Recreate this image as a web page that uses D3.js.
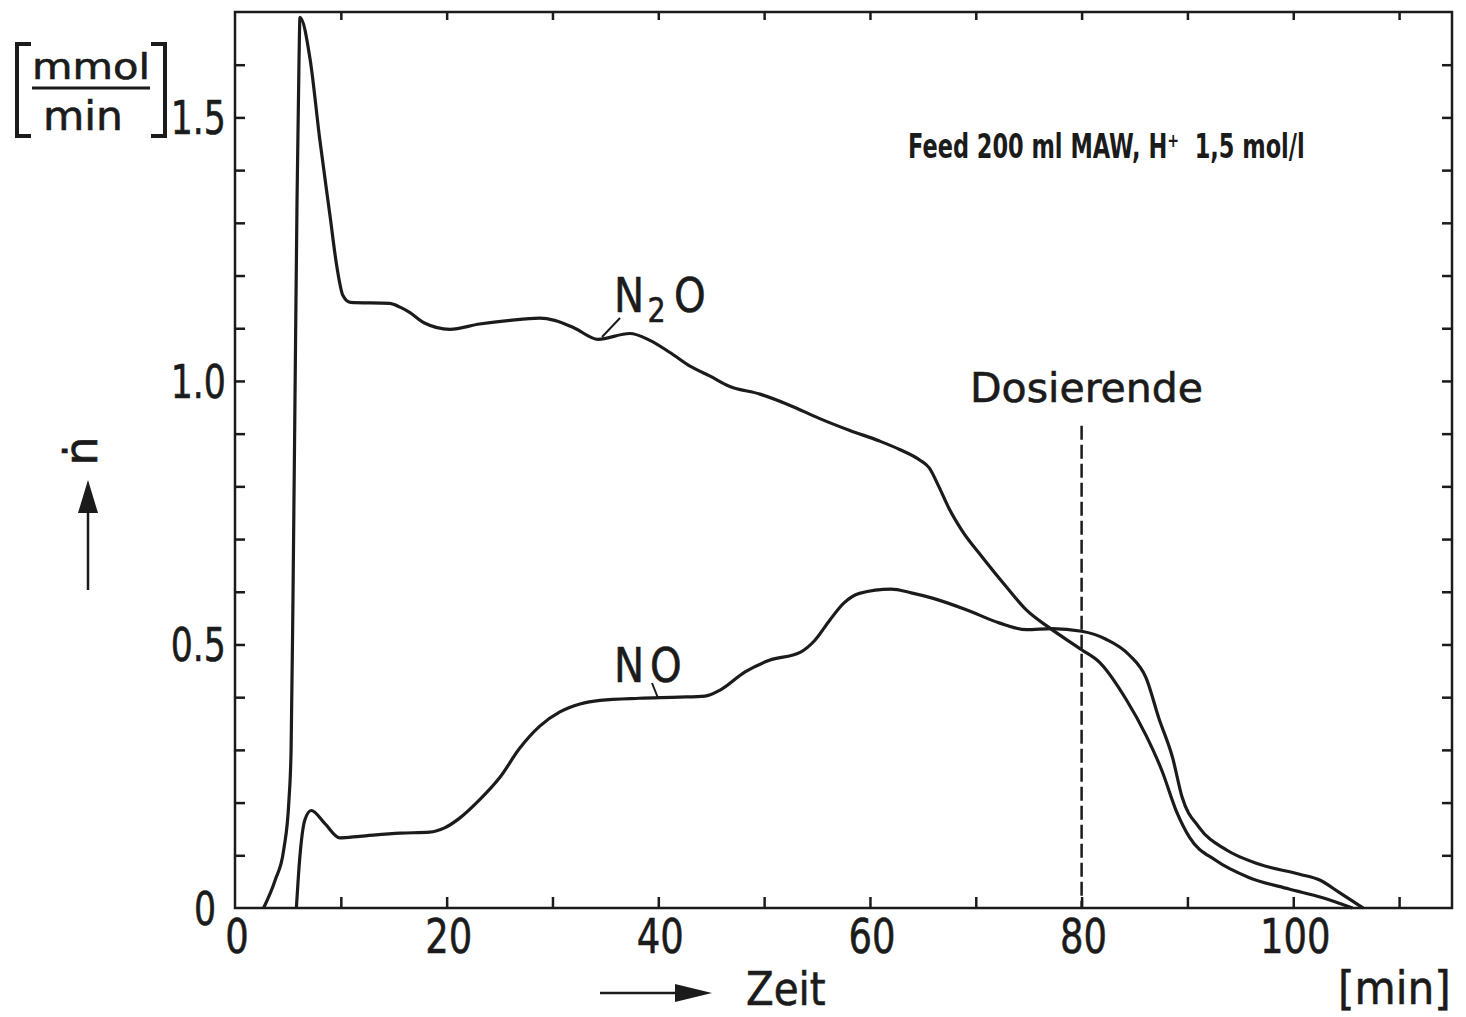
<!DOCTYPE html>
<html>
<head>
<meta charset="utf-8">
<script src="https://cdn.jsdelivr.net/npm/d3@7"></script>
<style>
  html, body { margin: 0; padding: 0; background: #fff; }
  svg { display: block; }
  text { font-family: "DejaVu Sans", sans-serif; fill: #1b1b1b; }
</style>
</head>
<body>
<svg id="chart" width="1466" height="1017"></svg>
<script>
// Gas evolution during feed: N2O and NO flow vs. time
const timeN2O = [2.7, 3.8, 4.6, 5.1, 5.3, 5.48, 5.67, 5.86, 6.05, 6.14, 7.1, 8.0, 9.0, 9.6, 10.2, 10.9,
  14.6, 15.6, 16.5, 17.9, 20.3, 23.1, 26.0, 28.8, 30.2, 32.1, 34.3, 37.3, 39.2,
  41.1, 43.0, 44.9, 46.7, 49.6, 52.4, 55.2, 58.1, 60.9, 62.8, 64.7, 65.6, 66.5, 67.5, 68.7, 70.6, 72.9,
  74.8, 77.0, 80.0, 81.7, 84.2, 86.1, 87.6, 88.95, 90.2, 92.7, 95.8, 99.6, 102.7, 105.6];
const flowN2O = [0, 0.053, 0.11, 0.205, 0.30, 0.59, 0.97, 1.34, 1.61, 1.69, 1.61, 1.46, 1.31, 1.22, 1.162, 1.149,
  1.147, 1.14, 1.13, 1.11, 1.098, 1.108, 1.115, 1.119, 1.115, 1.10, 1.079, 1.090, 1.077,
  1.054, 1.028, 1.009, 0.99, 0.975, 0.954, 0.929, 0.906, 0.886, 0.87, 0.85, 0.835, 0.80, 0.757, 0.716, 0.666, 0.609,
  0.565, 0.531, 0.49, 0.466, 0.396, 0.327, 0.26, 0.184, 0.134, 0.09, 0.058, 0.036, 0.02, 0];

const timeNO = [5.8, 6.1, 6.6, 7.2, 8.5, 9.9, 11.8, 15.6, 18.4, 19.8, 21.2, 23.1, 25.0, 26.9, 28.8, 30.7,
  32.6, 34.5, 38.2, 42.0, 44.4, 45.8, 48.2, 50.5, 53.4, 54.8, 56.2, 57.5, 59.0, 62.0, 63.9, 65.9, 69.1,
  72.2, 74.8, 77.2, 80.0, 82.3, 84.5, 86.1, 87.3, 88.6, 89.5, 91.1, 93.7, 96.8, 100.6, 102.5, 104.3, 106.6];
const flowNO = [0, 0.09, 0.167, 0.185, 0.16, 0.133, 0.136, 0.142, 0.144, 0.152, 0.17, 0.205, 0.247, 0.303, 0.345, 0.372,
  0.387, 0.394, 0.398, 0.40, 0.402, 0.413, 0.448, 0.47, 0.485, 0.508, 0.546, 0.578, 0.597, 0.605, 0.598, 0.588, 0.566,
  0.541, 0.528, 0.53, 0.525, 0.51, 0.48, 0.436, 0.36, 0.285, 0.21, 0.153, 0.11, 0.083, 0.064, 0.053, 0.03, 0];

const xLabelTicks = [0, 20, 40, 60, 80, 100];
const yLabelTicks = [0, 0.5, 1.0, 1.5];
const yLabelText = ["0", "0.5", "1.0", "1.5"];
const dosingEnd = 80;
const dosingLineTop = 0.915;

const svg = d3.select("#chart");
const x = d3.scaleLinear().domain([0, 115]).range([235, 1452]);
const y = d3.scaleLinear().domain([0, 1.7]).range([908, 12]);
const ink = "#1b1b1b";

// inward ticks on all four sides
const tickStyle = g => {
  g.select(".domain").remove();
  g.selectAll("line").attr("stroke", ink).attr("stroke-width", 2.5);
  g.selectAll("text").remove();
};
svg.append("g").attr("transform", `translate(0,${y(0)})`)
  .call(d3.axisBottom(x).tickValues(d3.range(10, 115, 10)).tickSize(-11)).call(tickStyle);
svg.append("g").attr("transform", `translate(0,${y(1.7)})`)
  .call(d3.axisTop(x).tickValues(d3.range(10, 115, 10)).tickSize(-8)).call(tickStyle);
svg.append("g").attr("transform", `translate(${x(0)},0)`)
  .call(d3.axisLeft(y).tickValues(d3.range(1, 17).map(d => d / 10)).tickSize(-10)).call(tickStyle);
svg.append("g").attr("transform", `translate(${x(115)},0)`)
  .call(d3.axisRight(y).tickValues(d3.range(1, 17).map(d => d / 10)).tickSize(-10)).call(tickStyle);

// frame
svg.append("rect")
  .attr("x", x(0)).attr("y", y(1.7))
  .attr("width", x(115) - x(0)).attr("height", y(0) - y(1.7))
  .attr("fill", "none").attr("stroke", ink).attr("stroke-width", 2.5);

// helper: horizontally condensed text with a slightly heavier stroke
function label(px, py, str, size, sx, anchor) {
  return svg.append("text")
    .attr("transform", `translate(${px},${py}) scale(${sx},1)`)
    .attr("font-size", size)
    .attr("text-anchor", anchor || "start")
    .attr("stroke", ink).attr("stroke-width", 0.6)
    .text(str);
}

// tick labels
xLabelTicks.forEach(v => label(x(v) + 2, 953, String(v), 48, 0.77, "middle"));
yLabelTicks.forEach((v, i) => {
  const right = v === 0 ? 216 : 226;
  label(right, y(v) + 17, yLabelText[i], 47, 0.74, "end");
});

// curves
const line = d3.line().x(d => x(d[0])).y(d => y(d[1])).curve(d3.curveMonotoneX);
[[timeN2O, flowN2O], [timeNO, flowNO]].forEach(([t, v]) => {
  svg.append("path")
    .datum(t.map((ti, i) => [ti, v[i]]))
    .attr("d", line)
    .attr("fill", "none")
    .attr("stroke", ink)
    .attr("stroke-width", 3.2)
    .attr("stroke-linejoin", "round");
});

// end of dosing marker
svg.append("line")
  .attr("x1", x(dosingEnd)).attr("x2", x(dosingEnd))
  .attr("y1", y(dosingLineTop)).attr("y2", y(0))
  .attr("stroke", ink).attr("stroke-width", 2.5)
  .attr("stroke-dasharray", "14,5");
label(970, 402, "Dosierende", 41, 1.0);

// curve labels with leaders
const n2o = svg.append("text")
  .attr("transform", "translate(614,312) scale(0.84,1)")
  .attr("font-size", 48).attr("stroke", ink).attr("stroke-width", 0.6);
n2o.append("tspan").text("N");
n2o.append("tspan").attr("font-size", 34).attr("dx", 4).attr("dy", 10).text("2");
n2o.append("tspan").attr("dx", 10).attr("dy", -10).text("O");
svg.append("line").attr("x1", 620).attr("y1", 318).attr("x2", 602).attr("y2", 337)
  .attr("stroke", ink).attr("stroke-width", 2);

const no = svg.append("text")
  .attr("transform", "translate(614,682) scale(0.84,1)")
  .attr("font-size", 48).attr("stroke", ink).attr("stroke-width", 0.6);
no.append("tspan").text("N");
no.append("tspan").attr("dx", 7).text("O");
svg.append("line").attr("x1", 652).attr("y1", 683).attr("x2", 658).attr("y2", 698)
  .attr("stroke", ink).attr("stroke-width", 2);

// annotation, condensed to its printed width
const feed = svg.append("text")
  .attr("font-size", 34).attr("font-weight", "bold")
  .attr("font-family", "'DejaVu Sans Condensed', 'DejaVu Sans', sans-serif")
  .attr("xml:space", "preserve")
  .text("Feed 200 ml MAW, H\u207A  1,5 mol/l");
const feedLen = feed.node().getComputedTextLength();
feed.attr("transform", `translate(908,158) scale(${397 / feedLen},1)`);

// y-axis unit [mmol/min]
svg.append("text").attr("x", 32).attr("y", 79).attr("font-size", 36)
  .attr("stroke", ink).attr("stroke-width", 0.6)
  .attr("textLength", 118).attr("lengthAdjust", "spacingAndGlyphs").text("mmol");
svg.append("line").attr("x1", 32).attr("x2", 150).attr("y1", 88).attr("y2", 88)
  .attr("stroke", ink).attr("stroke-width", 3);
svg.append("text").attr("x", 43).attr("y", 130).attr("font-size", 40)
  .attr("stroke", ink).attr("stroke-width", 0.6)
  .attr("textLength", 80).attr("lengthAdjust", "spacingAndGlyphs").text("min");
svg.append("path").attr("d", "M31,44 L17,44 L17,136 L31,136")
  .attr("fill", "none").attr("stroke", ink).attr("stroke-width", 4);
svg.append("path").attr("d", "M151,44 L165,44 L165,136 L151,136")
  .attr("fill", "none").attr("stroke", ink).attr("stroke-width", 4);

// y-axis symbol and arrow
svg.append("text")
  .attr("transform", "translate(97,451) rotate(-90)")
  .attr("font-size", 46).attr("text-anchor", "middle")
  .attr("stroke", ink).attr("stroke-width", 0.6)
  .text("\u1E45");
svg.append("line").attr("x1", 88).attr("x2", 88).attr("y1", 590).attr("y2", 505)
  .attr("stroke", ink).attr("stroke-width", 2.5);
svg.append("path").attr("d", "M88,480 L78,513 L98,513 Z").attr("fill", ink);

// x-axis title and arrow
svg.append("line").attr("x1", 600).attr("x2", 680).attr("y1", 993).attr("y2", 993)
  .attr("stroke", ink).attr("stroke-width", 2.5);
svg.append("path").attr("d", "M712,993 L675,984 L675,1002 Z").attr("fill", ink);
label(746, 1005, "Zeit", 46, 0.88);
label(1338, 1004, "[min]", 46, 0.92);
</script>
</body>
</html>
